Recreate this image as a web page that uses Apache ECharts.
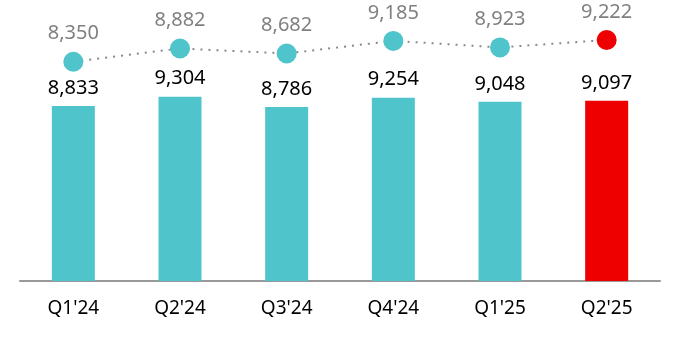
<!DOCTYPE html>
<html><head><meta charset="utf-8">
<script src="https://cdn.jsdelivr.net/npm/echarts@6/dist/echarts.min.js"></script>
<style>html,body{margin:0;padding:0;background:#fff}#c{width:680px;height:340px}</style>
</head><body><div id="c"></div>
<script>
const categories = ["Q1'24","Q2'24","Q3'24","Q4'24","Q1'25","Q2'25"];
const barValues = [8833, 9304, 8786, 9254, 9048, 9097];
const lineValues = [8350, 8882, 8682, 9185, 8923, 9222];
const teal = '#4FC4CB', red = '#EE0000';
const font = 'Noto Sans';
const chart = echarts.init(document.getElementById('c'));
chart.setOption({
  animation:false,
  grid:{left:20,right:20,top:20,bottom:59},
  xAxis:{type:'category',data:categories,
    axisLine:{lineStyle:{color:'#999',width:2}},axisTick:{show:false},
    axisLabel:{color:'#000',fontSize:19,fontFamily:font,margin:18}},
  yAxis:[
    {type:'value',min:0,max:13180,show:false,splitLine:{show:false}},
    {type:'value',min:-420,max:10020,show:false,splitLine:{show:false}}
  ],
  series:[
    {type:'bar',yAxisIndex:0,barWidth:43,
     data:barValues.map((v,i)=>({value:v,itemStyle:{color:i===barValues.length-1?red:teal}})),
     label:{show:true,position:'top',distance:8,color:'#000',fontSize:20,fontFamily:font,
       formatter:p=>p.value.toLocaleString('en-US')}},
    {type:'line',yAxisIndex:1,symbol:'circle',symbolSize:20,
     lineStyle:{color:'#888',width:2,type:[2,6]},
     data:lineValues.map((v,i)=>({value:v,itemStyle:{color:i===lineValues.length-1?red:teal}})),
     label:{show:true,position:'top',distance:8,color:'#808080',fontSize:20,fontFamily:font,
       formatter:p=>p.value.toLocaleString('en-US')}}
  ]
});
</script></body></html>
